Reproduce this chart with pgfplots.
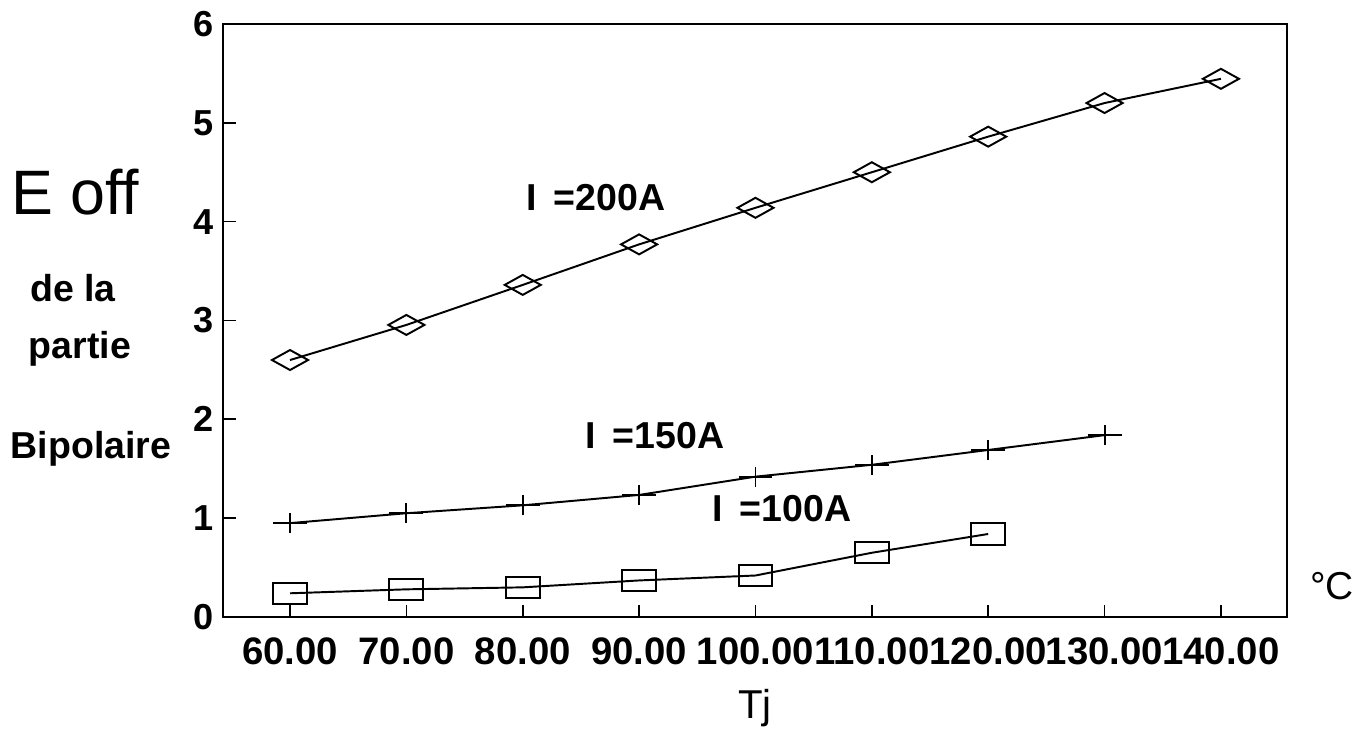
\documentclass[border=0pt]{standalone}
\usepackage{pgfplots}
\pgfplotsset{compat=1.18}
\usepackage{fontspec}
\setmainfont{Liberation Sans}
\pgfdeclareplotmark{wdiamond}{%
  \pgfpathmoveto{\pgfqpoint{-6.5pt}{0pt}}%
  \pgfpathlineto{\pgfqpoint{0pt}{3.6pt}}%
  \pgfpathlineto{\pgfqpoint{6.5pt}{0pt}}%
  \pgfpathlineto{\pgfqpoint{0pt}{-3.6pt}}%
  \pgfpathclose\pgfusepathqstroke}
\pgfdeclareplotmark{wsquare}{%
  \pgfpathrectangle{\pgfqpoint{-6.1pt}{-3.8pt}}{\pgfqpoint{12.2pt}{7.6pt}}%
  \pgfusepathqstroke}
\pgfdeclareplotmark{wplus}{%
  \pgfpathmoveto{\pgfqpoint{0pt}{-3.6pt}}%
  \pgfpathlineto{\pgfqpoint{0pt}{3.6pt}}%
  \pgfpathmoveto{\pgfqpoint{-6.1pt}{0pt}}%
  \pgfpathlineto{\pgfqpoint{6.1pt}{0pt}}%
  \pgfusepathqstroke}
\begin{document}
\begin{tikzpicture}[x=0.36pt,y=0.36pt]
\useasboundingbox (-223,-121) rectangle (1144,617);
\begin{axis}[
  at={(0,0)}, anchor=south west,
  scale only axis,
  width=383pt, height=213.5pt,
  xmin=54.24, xmax=145.67,
  ymin=0, ymax=6,
  axis line style={line width=0.9pt},
  xtick={60,70,80,90,100,110,120,130,140},
  xticklabels={60.00,70.00,80.00,90.00,100.00,110.00,120.00,130.00,140.00},
  ytick={0,1,2,3,4,5,6},
  yticklabels={0,1,2,3,4,5,6},
  xtick pos=bottom, ytick pos=left,
  tick align=inside,
  major tick length=4.5pt,
  tick style={line width=0.6pt, black},
  xticklabel style={font=\fontsize{13.8}{16}\selectfont\bfseries, yshift=-4pt},
  yticklabel style={font=\fontsize{13}{15}\selectfont\bfseries},
  clip=false,
]
\addplot[black, line width=0.7pt, mark=wdiamond] coordinates {
(60,2.60) (70,2.955) (80,3.36) (90,3.77) (100,4.14) (110,4.50) (120,4.86) (130,5.20) (140,5.445)};
\addplot[black, line width=0.7pt, mark=wplus] coordinates {
(60,0.95) (70,1.05) (80,1.13) (90,1.235) (100,1.42) (110,1.54) (120,1.69) (130,1.84)};
\addplot[black, line width=0.7pt, mark=wsquare] coordinates {
(60,0.24) (70,0.28) (80,0.30) (90,0.37) (100,0.42) (110,0.65) (120,0.84)};
\node[font=\fontsize{13.5}{16}\selectfont\bfseries] at (axis cs:86.3,4.24) {I \,=200A};
\node[font=\fontsize{13.5}{16}\selectfont\bfseries] at (axis cs:91.36,1.84) {I \,=150A};
\node[font=\fontsize{13.5}{16}\selectfont\bfseries] at (axis cs:102.27,1.10) {I \,=100A};
\end{axis}
\node[font=\fontsize{22.6}{26}\selectfont] at (-148,425) {E off};
\node[font=\fontsize{13.5}{16}\selectfont\bfseries] at (-150,329) {de la};
\node[font=\fontsize{13.5}{16}\selectfont\bfseries] at (-143,268) {partie};
\node[font=\fontsize{13.5}{16}\selectfont\bfseries] at (-132,168) {Bipolaire};
\node[font=\fontsize{14}{16}\selectfont] at (1109,31) {°C};
\node[font=\fontsize{14.5}{16}\selectfont, anchor=base] at (532,-101) {Tj};
\end{tikzpicture}
\end{document}
